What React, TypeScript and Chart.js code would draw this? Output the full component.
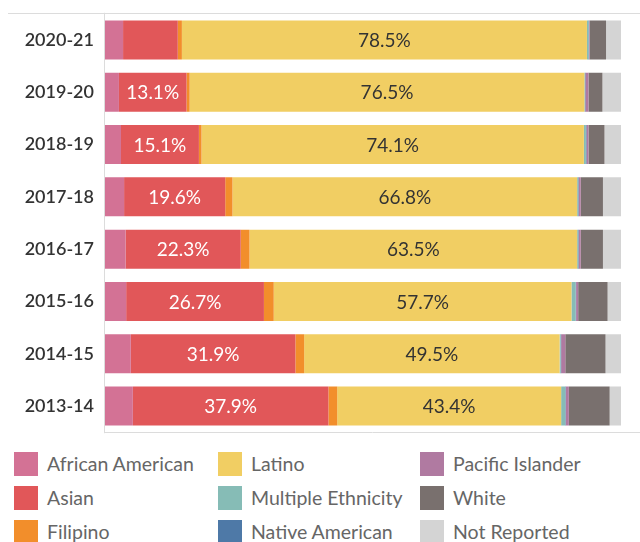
import React, { useEffect, useRef } from "react";
import { Chart, registerables } from "chart.js";

Chart.register(...registerables);

const years = ["2020-21", "2019-20", "2018-19", "2017-18", "2016-17", "2015-16", "2014-15", "2013-14"];

const africanAmerican = [3.5, 2.7, 3.1, 3.7, 4.0, 4.1, 5.0, 5.4];
const asian = [10.6, 13.1, 15.1, 19.6, 22.3, 26.7, 31.9, 37.9];
const filipino = [0.8, 0.6, 0.5, 1.4, 1.7, 1.9, 1.7, 1.7];
const latino = [78.5, 76.5, 74.1, 66.8, 63.5, 57.7, 49.5, 43.4];
const multipleEthnicity = [0.3, 0.1, 0.4, 0.2, 0.2, 0.8, 0.2, 0.8];
const nativeAmerican = [0.1, 0.1, 0.1, 0.1, 0.1, 0.1, 0.1, 0.1];
const pacificIslander = [0.1, 0.6, 0.4, 0.4, 0.4, 0.4, 0.8, 0.6];
const white = [3.2, 2.7, 3.1, 4.3, 4.3, 5.7, 7.8, 7.9];
const notReported = [2.9, 3.6, 3.2, 3.5, 3.5, 2.6, 3.0, 2.2];

const asianLabels = ["", "13.1%", "15.1%", "19.6%", "22.3%", "26.7%", "31.9%", "37.9%"];
const latinoLabels = ["78.5%", "76.5%", "74.1%", "66.8%", "63.5%", "57.7%", "49.5%", "43.4%"];

const seriesNames = [
  "African American",
  "Asian",
  "Filipino",
  "Latino",
  "Multiple Ethnicity",
  "Native American",
  "Pacific Islander",
  "White",
  "Not Reported",
];
const seriesColors = [
  "#D37295",
  "#E15759",
  "#F28E2B",
  "#F1CE63",
  "#86BCB6",
  "#4E79A7",
  "#B07AA1",
  "#79706E",
  "#D4D4D4",
];
const seriesValues = [
  africanAmerican,
  asian,
  filipino,
  latino,
  multipleEthnicity,
  nativeAmerican,
  pacificIslander,
  white,
  notReported,
];

const FONT = "Lato, 'Noto Sans', sans-serif";

const framePlugin = {
  id: "frame",
  afterDraw(chart: any) {
    const { ctx, chartArea } = chart;
    ctx.save();
    ctx.strokeStyle = "#dcdcdc";
    ctx.lineWidth = 1;
    ctx.beginPath();
    ctx.moveTo(8, Math.round(chartArea.top) - 0.5);
    ctx.lineTo(chart.width, Math.round(chartArea.top) - 0.5);
    ctx.moveTo(Math.round(chartArea.left) - 0.5, chartArea.top - 1);
    ctx.lineTo(Math.round(chartArea.left) - 0.5, chartArea.bottom + 1);
    ctx.moveTo(chartArea.left, Math.round(chartArea.bottom) + 0.5);
    ctx.lineTo(chart.width, Math.round(chartArea.bottom) + 0.5);
    ctx.stroke();
    ctx.restore();
  },
};

const labelPlugin = {
  id: "segLabels",
  afterDatasetsDraw(chart: any) {
    const { ctx } = chart;
    ctx.save();
    ctx.font = `19px ${FONT}`;
    ctx.textAlign = "center";
    ctx.textBaseline = "middle";
    const draw = (dsIndex: number, labels: string[], color: string) => {
      const meta = chart.getDatasetMeta(dsIndex);
      meta.data.forEach((el: any, i: number) => {
        const t = labels[i];
        if (!t) return;
        const cx = (el.x + el.base) / 2;
        ctx.fillStyle = color;
        ctx.fillText(t, cx, el.y + 1);
      });
    };
    draw(1, asianLabels, "#ffffff");
    draw(3, latinoLabels, "#333333");
    ctx.restore();
  },
};

export default function App() {
  const canvasRef = useRef<HTMLCanvasElement | null>(null);

  useEffect(() => {
    if (!canvasRef.current) return;
    const chart = new Chart(canvasRef.current, {
      type: "bar",
      data: {
        labels: years,
        datasets: seriesNames.map((name, i) => ({
          label: name,
          data: seriesValues[i],
          backgroundColor: seriesColors[i],
          borderWidth: 0,
          barPercentage: 0.745,
          categoryPercentage: 1,
        })),
      },
      options: {
        indexAxis: "y",
        animation: false,
        responsive: false,
        maintainAspectRatio: false,
        layout: { padding: { top: 1, right: 19, bottom: 1, left: 0 } },
        plugins: {
          legend: { display: false },
          tooltip: { enabled: false },
        },
        scales: {
          x: {
            stacked: true,
            min: 0,
            max: 100,
            display: false,
          },
          y: {
            stacked: true,
            grid: { display: false },
            border: { display: false },
            ticks: {
              color: "#333333",
              font: { family: FONT, size: 18, weight: "600" },
              padding: 3,
            },
            afterFit(scale: any) {
              scale.width = 105;
            },
          },
        },
      },
      plugins: [framePlugin, labelPlugin],
    } as any);
    return () => chart.destroy();
  }, []);

  const colLefts = [14, 218, 420];
  const rowTops = [452, 486, 520];

  return (
    <div style={{ position: "absolute", left: 0, top: 0, width: 640, height: 542, background: "#fff", overflow: "hidden" }}>
      <canvas ref={canvasRef} width={640} height={446} style={{ position: "absolute", left: 0, top: 0, width: 640, height: 446 }} />
      {seriesNames.map((name, i) => {
        const col = Math.floor(i / 3);
        const row = i % 3;
        return (
          <div
            key={name}
            style={{
              position: "absolute",
              left: colLefts[col],
              top: rowTops[row],
              height: 24,
              display: "flex",
              alignItems: "center",
              fontFamily: FONT,
              fontSize: 19.5,
              color: "#666666",
              whiteSpace: "nowrap",
            }}
          >
            <span style={{ display: "inline-block", width: 24, height: 24, background: seriesColors[i], marginRight: 9 }} />
            <span style={{ lineHeight: "24px" }}>{name}</span>
          </div>
        );
      })}
    </div>
  );
}
